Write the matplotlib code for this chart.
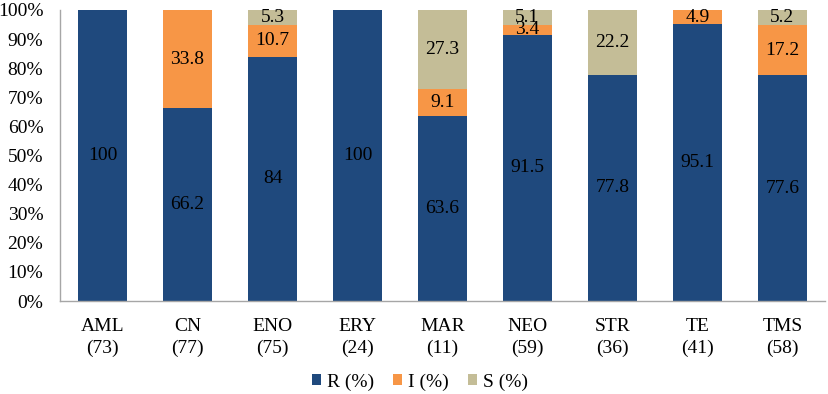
import numpy as np
import matplotlib.pyplot as plt

# ----- DATA -----
categories = ["AML\n(73)", "CN\n(77)", "ENO\n(75)", "ERY\n(24)", "MAR\n(11)",
              "NEO\n(59)", "STR\n(36)", "TE\n(41)", "TMS\n(58)"]
r_vals = [100, 66.2, 84, 100, 63.6, 91.5, 77.8, 95.1, 77.6]
i_vals = [0, 33.8, 10.7, 0, 9.1, 3.4, 0, 4.9, 17.2]
s_vals = [0, 0, 5.3, 0, 27.3, 5.1, 22.2, 0, 5.2]
series_names = ["R (%)", "I (%)", "S (%)"]
colors = ["#1F497D", "#F79646", "#C4BD97"]

plt.rcParams['font.family'] = ['Liberation Serif', 'DejaVu Serif']

fig = plt.figure(figsize=(8.29, 3.94), dpi=100)
ax = fig.add_axes([60 / 829, 93 / 394, 765 / 829, 291 / 394])

x = np.arange(len(categories))
width = 0.57
bottom = np.zeros(len(categories))
for vals, name, col in zip([r_vals, i_vals, s_vals], series_names, colors):
    vals = np.array(vals)
    bars = ax.bar(x, vals, width, bottom=bottom, color=col, label=name)
    labels = [f"{v:g}" if v > 0 else "" for v in vals]
    ax.bar_label(bars, labels=labels, label_type='center', fontsize=14, color='black')
    bottom += vals

ax.set_xlim(-0.5, len(categories) - 0.5)
ax.set_ylim(0, 100)
ax.set_yticks(np.arange(0, 101, 10))
ax.set_yticklabels([f"{t}%" for t in range(0, 101, 10)])
ax.set_xticks(x)
ax.set_xticklabels(categories, linespacing=1.35)
ax.tick_params(axis='both', length=0, labelsize=14, colors='black')
ax.tick_params(axis='x', pad=12)
ax.tick_params(axis='y', pad=12)

for side in ['top', 'right']:
    ax.spines[side].set_visible(False)
for side in ['left', 'bottom']:
    ax.spines[side].set_color('#A6A6A6')
    ax.spines[side].set_linewidth(1.0)

fig.legend(loc='center', bbox_to_anchor=(420 / 829, 1 - 382 / 394), ncol=3,
           frameon=False, fontsize=14, handlelength=0.45, handleheight=0.45,
           handletextpad=0.3, columnspacing=1.0)

fig.savefig("out.png", dpi=100)
